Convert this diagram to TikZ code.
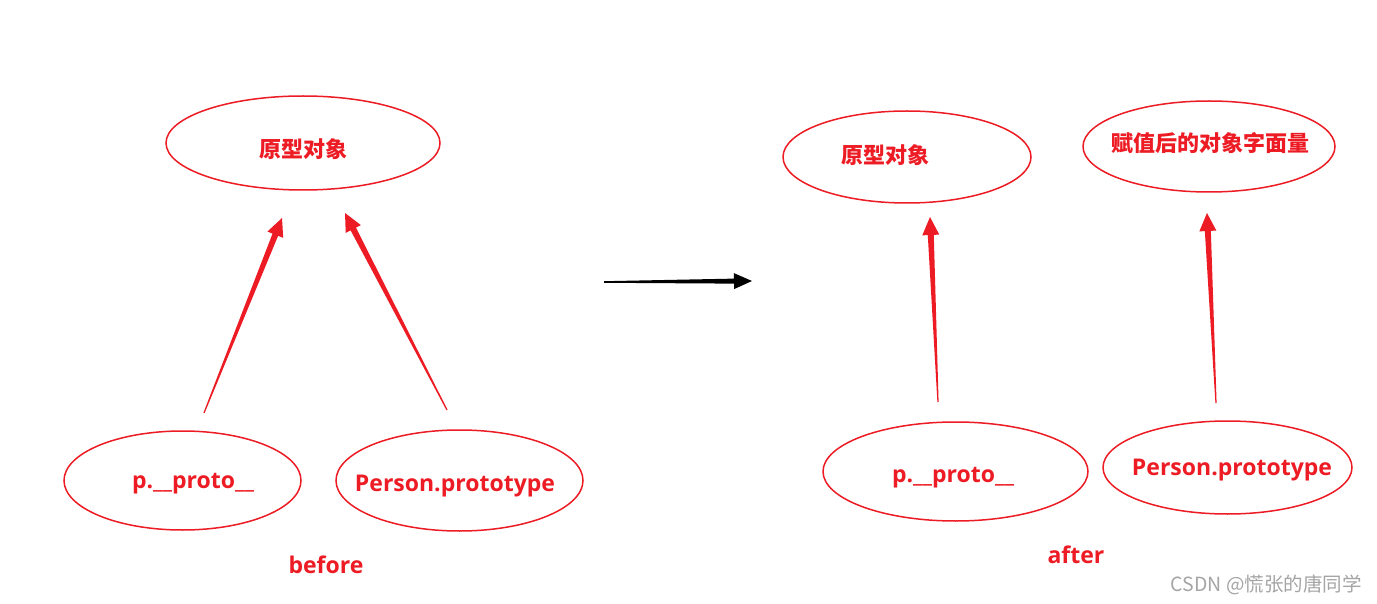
\documentclass[tikz,border=0pt]{standalone}
\usepackage{fontspec}
\setmainfont{Open Sans}
\newfontfamily\cjk{Noto Sans CJK SC}
\usetikzlibrary{calc}
\definecolor{rd}{RGB}{237,28,36}
\definecolor{wm}{RGB}{165,165,165}
\newcommand\taparrow[6]{% tail, tip, color, tailhalf, basehalf, headhalf
  \path (#2) coordinate (tp) ($(#2)!18pt!(#1)$) coordinate (bs);
  \fill[#3] ($(#1)!#4!90:(#2)$) -- ($(bs)!#5!90:(tp)$) -- ($(bs)!#6!90:(tp)$) -- (tp)
    -- ($(bs)!#6!-90:(tp)$) -- ($(bs)!#5!-90:(tp)$) -- ($(#1)!#4!-90:(#2)$) -- cycle;
}
\begin{document}
\begin{tikzpicture}[x=1pt,y=-1pt,
  lbl/.style={text=rd,font=\bfseries\fontsize{23}{27}\selectfont,inner sep=0pt},
  clbl/.style={text=rd,font=\cjk\bfseries\fontsize{22}{26}\selectfont,inner sep=0pt},
  ell/.style={draw=rd,line width=1.5pt}]
\useasboundingbox (0,0) rectangle (1377,604);
\fill[white] (0,0) rectangle (1377,604);
% ellipses
\draw[ell] (303,143) ellipse [x radius=137,y radius=47];
\draw[ell] (182.5,480.5) ellipse [x radius=118.5,y radius=49.5];
\draw[ell] (459.5,480.5) ellipse [x radius=123.5,y radius=50.5];
\draw[ell] (907,157) ellipse [x radius=124,y radius=46];
\draw[ell] (1209,146.5) ellipse [x radius=126,y radius=45.5];
\draw[ell] (955.5,471.5) ellipse [x radius=132.5,y radius=49.5];
\draw[ell] (1227.5,467.5) ellipse [x radius=124.5,y radius=46.5];
% labels
\node[clbl] (b1) at (303,149) {原型对象};
\node[lbl] (b2) at (193,484) {p.\_\_proto\_\_};
\node[lbl] (b3) at (455,486) {Person.prototype};
\node[lbl] (bt) at (326,565) {before};
\node[clbl] (a1) at (885,155) {原型对象};
\node[clbl] (a2) at (1210,143) {赋值后的对象字面量};
\node[lbl] (a3) at (953,478) {p.\_\_proto\_\_};
\node[lbl] (a4) at (1232,470) {Person.prototype};
\node[lbl] (at) at (1076,555) {after};
\node[text=wm,font=\cjk\fontsize{19.5}{23}\selectfont,inner sep=0pt,anchor=east] (wmk) at (1362,585) {CSDN @慌张的唐同学};
% arrow end points
\coordinate (t1) at (204,413); \coordinate (h1) at (282,218);
\coordinate (t2) at (447,410); \coordinate (h2) at (345,213);
\coordinate (t0) at (604,282); \coordinate (h0) at (752,281);
\coordinate (t3) at (938,402); \coordinate (h3) at (930,217);
\coordinate (t4) at (1216,403); \coordinate (h4) at (1207,213);
\taparrow{t1}{h1}{rd}{0.6pt}{3pt}{8.5pt}
\taparrow{t2}{h2}{rd}{0.6pt}{3pt}{8.5pt}
\taparrow{t3}{h3}{rd}{0.6pt}{3pt}{8.5pt}
\taparrow{t4}{h4}{rd}{0.6pt}{3pt}{8.5pt}
\taparrow{t0}{h0}{black}{0.8pt}{2.5pt}{8pt}
\end{tikzpicture}
\end{document}
